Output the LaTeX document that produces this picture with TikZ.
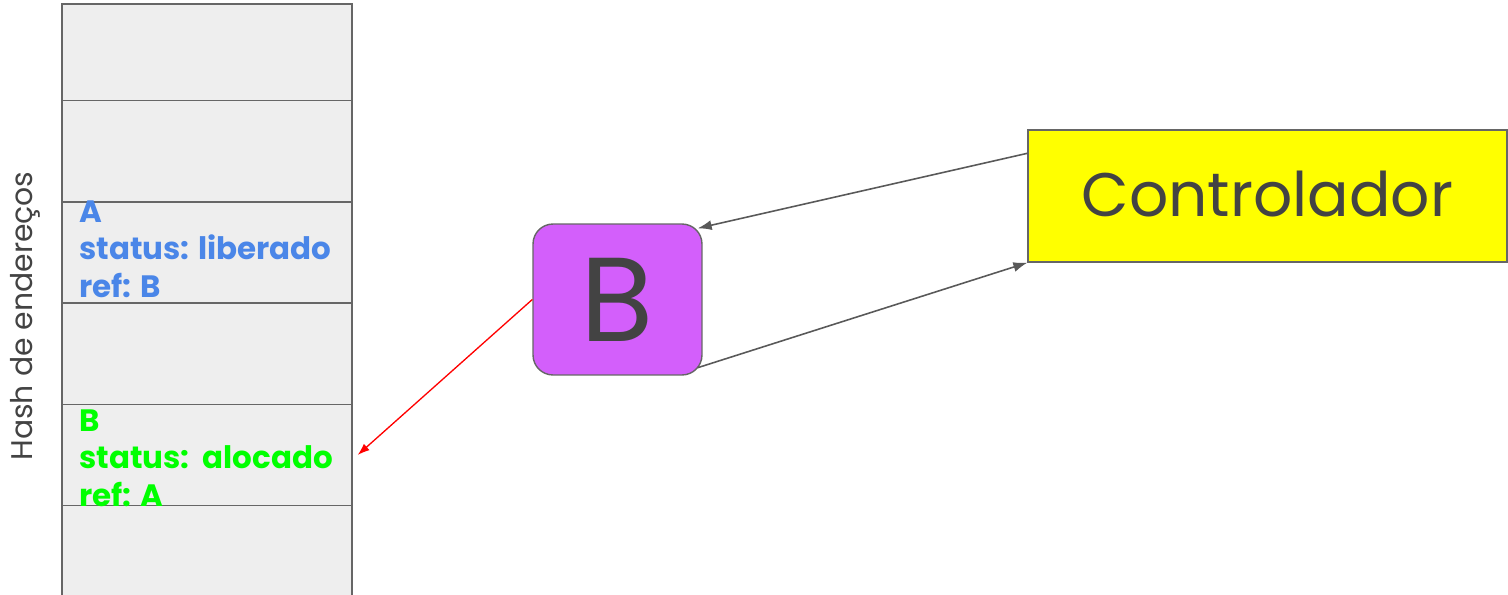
\documentclass[tikz,border=0pt]{standalone}
\usepackage{fontspec}
\setmainfont{Poppins}
\usepackage{tikz}
\usetikzlibrary{arrows.meta}
\definecolor{slotgray}{HTML}{EEEEEE}
\definecolor{edgegray}{HTML}{666666}
\definecolor{inkgray}{HTML}{434343}
\definecolor{linkgray}{HTML}{595959}
\definecolor{freeblue}{HTML}{4A86E8}
\definecolor{usedgreen}{HTML}{00FF00}
\definecolor{objpurple}{HTML}{D35FFB}
\definecolor{ctrlyellow}{HTML}{FFFF00}

\begin{document}
\begin{tikzpicture}[x=0.02cm, y=-0.02cm]
\tikzstyle{slot} = [rectangle, minimum width=5.8cm, minimum height=2.02cm, draw=edgegray, fill=slotgray, line width=0.8pt]
\tikzstyle{entry} = [anchor=north west, inner sep=0pt, align=left, font=\bfseries\fontsize{17.6}{21.5}\selectfont]
\tikzstyle{object} = [rectangle, rounded corners=0.4cm, minimum width=3.38cm, minimum height=3.02cm, draw=edgegray, fill=objpurple, line width=0.8pt, text=inkgray, font=\fontsize{68}{70}\selectfont]
\tikzstyle{ctrl} = [rectangle, minimum width=9.58cm, minimum height=2.64cm, draw=edgegray, fill=ctrlyellow, line width=0.8pt, text=inkgray, font=\fontsize{35}{40}\selectfont]
\tikzstyle{link} = [-{Latex[length=0.28cm, width=0.2cm]}, line width=0.9pt, draw=linkgray]
\tikzstyle{refarrow} = [-{Latex[length=0.24cm, width=0.17cm]}, line width=0.75pt, draw=red]

\useasboundingbox (0,0) rectangle (1508,595);

% Address table
\node[slot] (slot1) at (207,54.5) {};
\node[slot] (slot2) at (207,151) {};
\node[slot] (slot3) at (207,252.5) {};
\node[slot] (slot4) at (207,354) {};
\node[slot] (slot5) at (207,455) {};
\node[slot] (slot6) at (207,556) {};

\node[rotate=90, text=inkgray, font=\fontsize{17}{20}\selectfont] (hashlabel) at (25,316) {Hash de endereços};

% Table entries
\node[entry, text=freeblue] (entryA) at (79,200) {A\\status: liberado\\ref: B};
\node[entry, text=usedgreen] (entryB) at (79,409) {B\\status:\ \ alocado\\ref: A};

% Object and controller
\node[object] (objB) at (617.5,299.5) {B};
\node[ctrl] (control) at (1267.5,196) {\raisebox{0.1cm}{Controlador}};

% Arrows
\draw[link] ([yshift=-0.48cm]control.north west) -- ([shift={(-0.1cm,-0.1cm)}]objB.north east);
\draw[link] ([shift={(-0.1cm,0.16cm)}]objB.south east) -- (control.south west);
\draw[refarrow] (objB.west) -- ([xshift=0.1cm]slot5.east);
\end{tikzpicture}
\end{document}
